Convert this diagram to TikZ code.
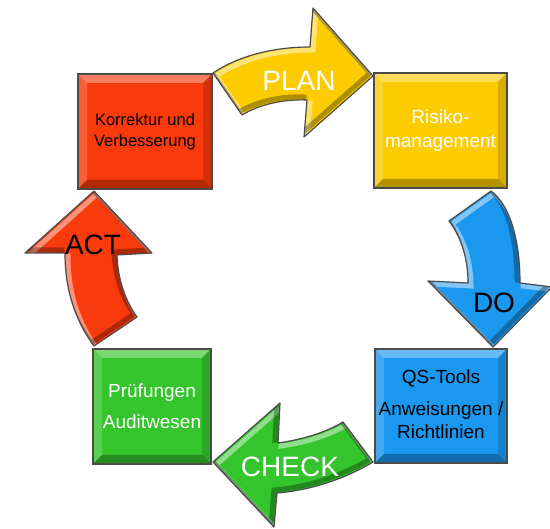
\documentclass[tikz,border=0pt]{standalone}
\usepackage{fontspec}
\setmainfont{Liberation Sans}
\definecolor{redf}{RGB}{248,58,12}
\definecolor{yelf}{RGB}{252,204,0}
\definecolor{bluf}{RGB}{26,152,240}
\definecolor{grnf}{RGB}{52,196,44}
\definecolor{edge}{RGB}{75,75,75}
\tikzset{
  bevel/.style={path picture={
    \fill[white,opacity=.35] (path picture bounding box.north west) -- (path picture bounding box.north east)
      -- ([shift={(-9pt,-9pt)}]path picture bounding box.north east) -- ([shift={(9pt,-9pt)}]path picture bounding box.north west) -- cycle;
    \fill[white,opacity=.18] (path picture bounding box.north west) -- (path picture bounding box.south west)
      -- ([shift={(9pt,9pt)}]path picture bounding box.south west) -- ([shift={(9pt,-9pt)}]path picture bounding box.north west) -- cycle;
    \fill[black,opacity=.15] (path picture bounding box.north east) -- (path picture bounding box.south east)
      -- ([shift={(-9pt,9pt)}]path picture bounding box.south east) -- ([shift={(-9pt,-9pt)}]path picture bounding box.north east) -- cycle;
    \fill[black,opacity=.28] (path picture bounding box.south west) -- (path picture bounding box.south east)
      -- ([shift={(-9pt,9pt)}]path picture bounding box.south east) -- ([shift={(9pt,9pt)}]path picture bounding box.south west) -- cycle;
  }},
  stepbox/.style={draw=edge, line width=1.2pt, inner sep=0pt, align=center, bevel},
  lbl/.style={font=\fontsize{28}{32}\selectfont, inner sep=0pt, anchor=base},
  planp/.style={insert path={(213,73) .. controls (240,55) and (275,47) .. (310,47) -- (313,8) -- (373,76) -- (304,137) -- (307,100) .. controls (285,99) and (260,104) .. (242,115) -- cycle}},
  dop/.style={insert path={(491,191) .. controls (510,205) and (520,240) .. (520,283) -- (552,287) -- (493,347) -- (428,281) -- (468,283) .. controls (468,260) and (462,238) .. (449,221) -- cycle}},
  checkp/.style={insert path={(343,422) -- (373,462) .. controls (350,476) and (315,490) .. (277,493) -- (274,527) -- (213,462) -- (280,403) -- (278,443) .. controls (300,440) and (325,433) .. (343,422) -- cycle}},
  actp/.style={insert path={(94,191) -- (152,253) -- (117,255) .. controls (118,280) and (125,300) .. (137,317) -- (94,346) .. controls (75,320) and (65,290) .. (65,253) -- (25,253) -- cycle}},
}
\newcommand\bevelarrow[2]{%
  \fill[#2, #1];
  \begin{scope}
    \clip[#1];
    \draw[white, opacity=.45, line width=5pt, shift={(3pt,-3pt)}, #1];
    \draw[black, opacity=.3, line width=5pt, shift={(-3pt,3pt)}, #1];
  \end{scope}
  \draw[edge, line width=1.2pt, line join=round, #1];
}
\begin{document}
\begin{tikzpicture}[x=1pt,y=-1pt]
\useasboundingbox (0,0) rectangle (550,529);
% cycle arrows
\bevelarrow{planp}{yelf}
\bevelarrow{dop}{bluf}
\bevelarrow{checkp}{grnf}
\bevelarrow{actp}{redf}
% boxes
\node[stepbox, fill=redf, minimum width=134pt, minimum height=115pt,
      font=\fontsize{16.5}{21}\selectfont] (act-box) at (145,131.5)
      {\strut Korrektur und\\Verbesserung\strut};
\node[stepbox, fill=yelf, text=white, minimum width=133pt, minimum height=115pt,
      font=\fontsize{19}{24}\selectfont] (plan-box) at (440.5,130.5)
      {\strut Risiko-\\management\strut};
\node[stepbox, fill=bluf, minimum width=132pt, minimum height=114pt,
      font=\fontsize{19}{23}\selectfont] (do-box) at (441,406)
      {\strut QS-Tools\\[9pt]Anweisungen /\\Richtlinien\strut};
\node[stepbox, fill=grnf, text=white, minimum width=118pt, minimum height=115pt,
      font=\fontsize{19}{31}\selectfont] (check-box) at (152,406.5)
      {\strut Prüfungen\\Auditwesen\strut};
% labels
\node[lbl, text=white] (plan) at (299,91) {PLAN};
\node[lbl] (do) at (494,313) {DO};
\node[lbl, text=white] (check) at (290,477) {CHECK};
\node[lbl] (act) at (93,255) {ACT};
\end{tikzpicture}
\end{document}
